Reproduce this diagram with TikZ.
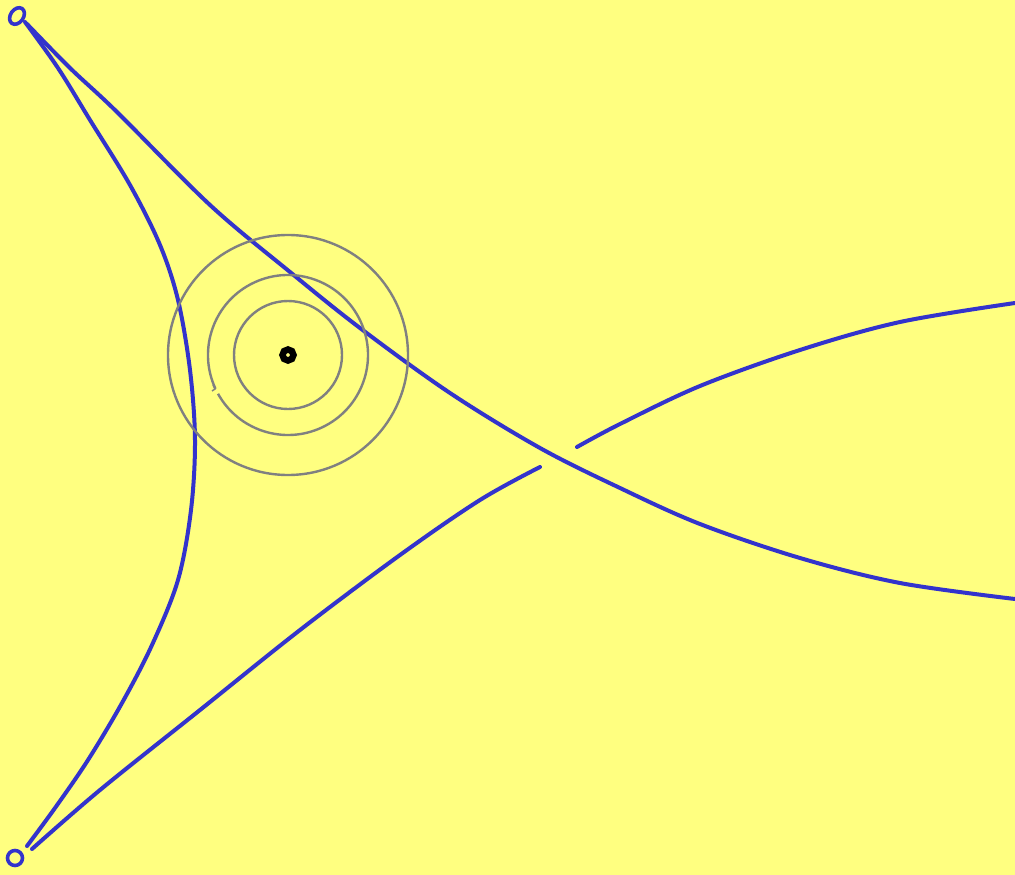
\documentclass[tikz,border=0pt]{standalone}
\definecolor{bg}{RGB}{255,255,128}
\definecolor{pen}{RGB}{51,51,204}
\definecolor{ring}{RGB}{128,128,128}
\tikzset{
  penline/.style={draw=pen, line width=4pt, line cap=round, line join=round},
  ringline/.style={draw=ring, line width=2.4pt},
}
\begin{document}
\begin{tikzpicture}[x=1pt,y=-1pt]
\fill[bg] (0,0) rectangle (1015,875);
\useasboundingbox (0,0) rectangle (1015,875);
% end loops
\draw[penline, line width=3.6pt] (17,16) ellipse [x radius=6.5, y radius=9, rotate=-35];
\draw[penline, line width=3.6pt] (15,858) circle [radius=7.5];
% left arc
\draw[penline] plot[smooth, tension=0.55] coordinates {(25,22) (58,68) (90,120) (130,185) (160,245) (178,300) (190,370) (195,440) (191,510) (178,580) (152,645) (122,703) (88,760) (55,808) (27,846)};
% long upper curve
\draw[penline] plot[smooth, tension=0.55] coordinates {(27,24) (70,68) (117,112) (210,205) (290,272) (360,328) (450,393) (540,448) (620,488) (700,524) (800,558) (900,583) (1015,599)};
% right upper branch
\draw[penline] plot[smooth, tension=0.55] coordinates {(577,447) (620,424) (700,386) (800,350) (900,322) (1015,303)};
% lower left line
\draw[penline] plot[smooth, tension=0.55] coordinates {(32,849) (100,790) (200,710) (300,630) (400,555) (480,500) (540,467)};
% rings
\draw[ringline] (288,355) circle [radius=54];
\draw[ringline] (288,355) circle [radius=120];
\draw[ringline] (288,355) ++(155:80) arc[start angle=155, end angle=511, radius=80];
\draw[ringline, line width=1.5pt] (213,385) -- (215,389) -- (212,391);
% centre dot
\draw[black, line width=6.5pt] (288,355) circle [radius=5.5];
\end{tikzpicture}
\end{document}
